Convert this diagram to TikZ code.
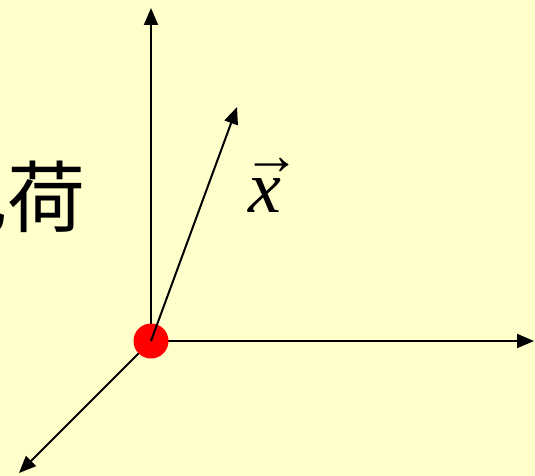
\documentclass[tikz,border=0pt]{standalone}
\usepackage{fontspec}
\setmainfont{Liberation Serif}
\newfontfamily\cjk{Noto Sans CJK SC}
\usetikzlibrary{arrows.meta}
\definecolor{bgyellow}{HTML}{FFFFCC}
\definecolor{dotred}{HTML}{FF0000}
\tikzset{
  axis/.style={line width=2pt, -{Triangle[length=17pt,width=14pt]}},
  charge/.style={circle, fill=dotred, minimum size=35pt, inner sep=0pt},
}
\begin{document}
\begin{tikzpicture}[x=1pt,y=-1pt]
\fill[bgyellow] (0,0) rectangle (535,476);
\useasboundingbox (0,0) rectangle (535,476);
\clip (0,0) rectangle (535,476);
\node[inner sep=0pt, font=\cjk\fontsize{78pt}{78pt}\selectfont] (lbl) at (7.5,197) {电荷};
\coordinate (O) at (151,341);
\coordinate (up) at (151,8);
\coordinate (right) at (534,341);
\coordinate (dl) at (19,473);
\coordinate (tip) at (237,107);
\draw[axis] (O) -- (up);
\draw[axis] (O) -- (right);
\draw[axis] (O) -- (dl);
\node[charge] (q) at (O) {};
\draw[axis] (q.center) -- (tip);
\node[inner sep=0pt, font=\fontsize{74pt}{74pt}\selectfont, anchor=base west] (xv) at (248,212)
  {\rlap{\hspace{-5pt}\raisebox{38pt}{\fontsize{57pt}{57pt}\selectfont →}}\textit{x}};
\end{tikzpicture}
\end{document}
